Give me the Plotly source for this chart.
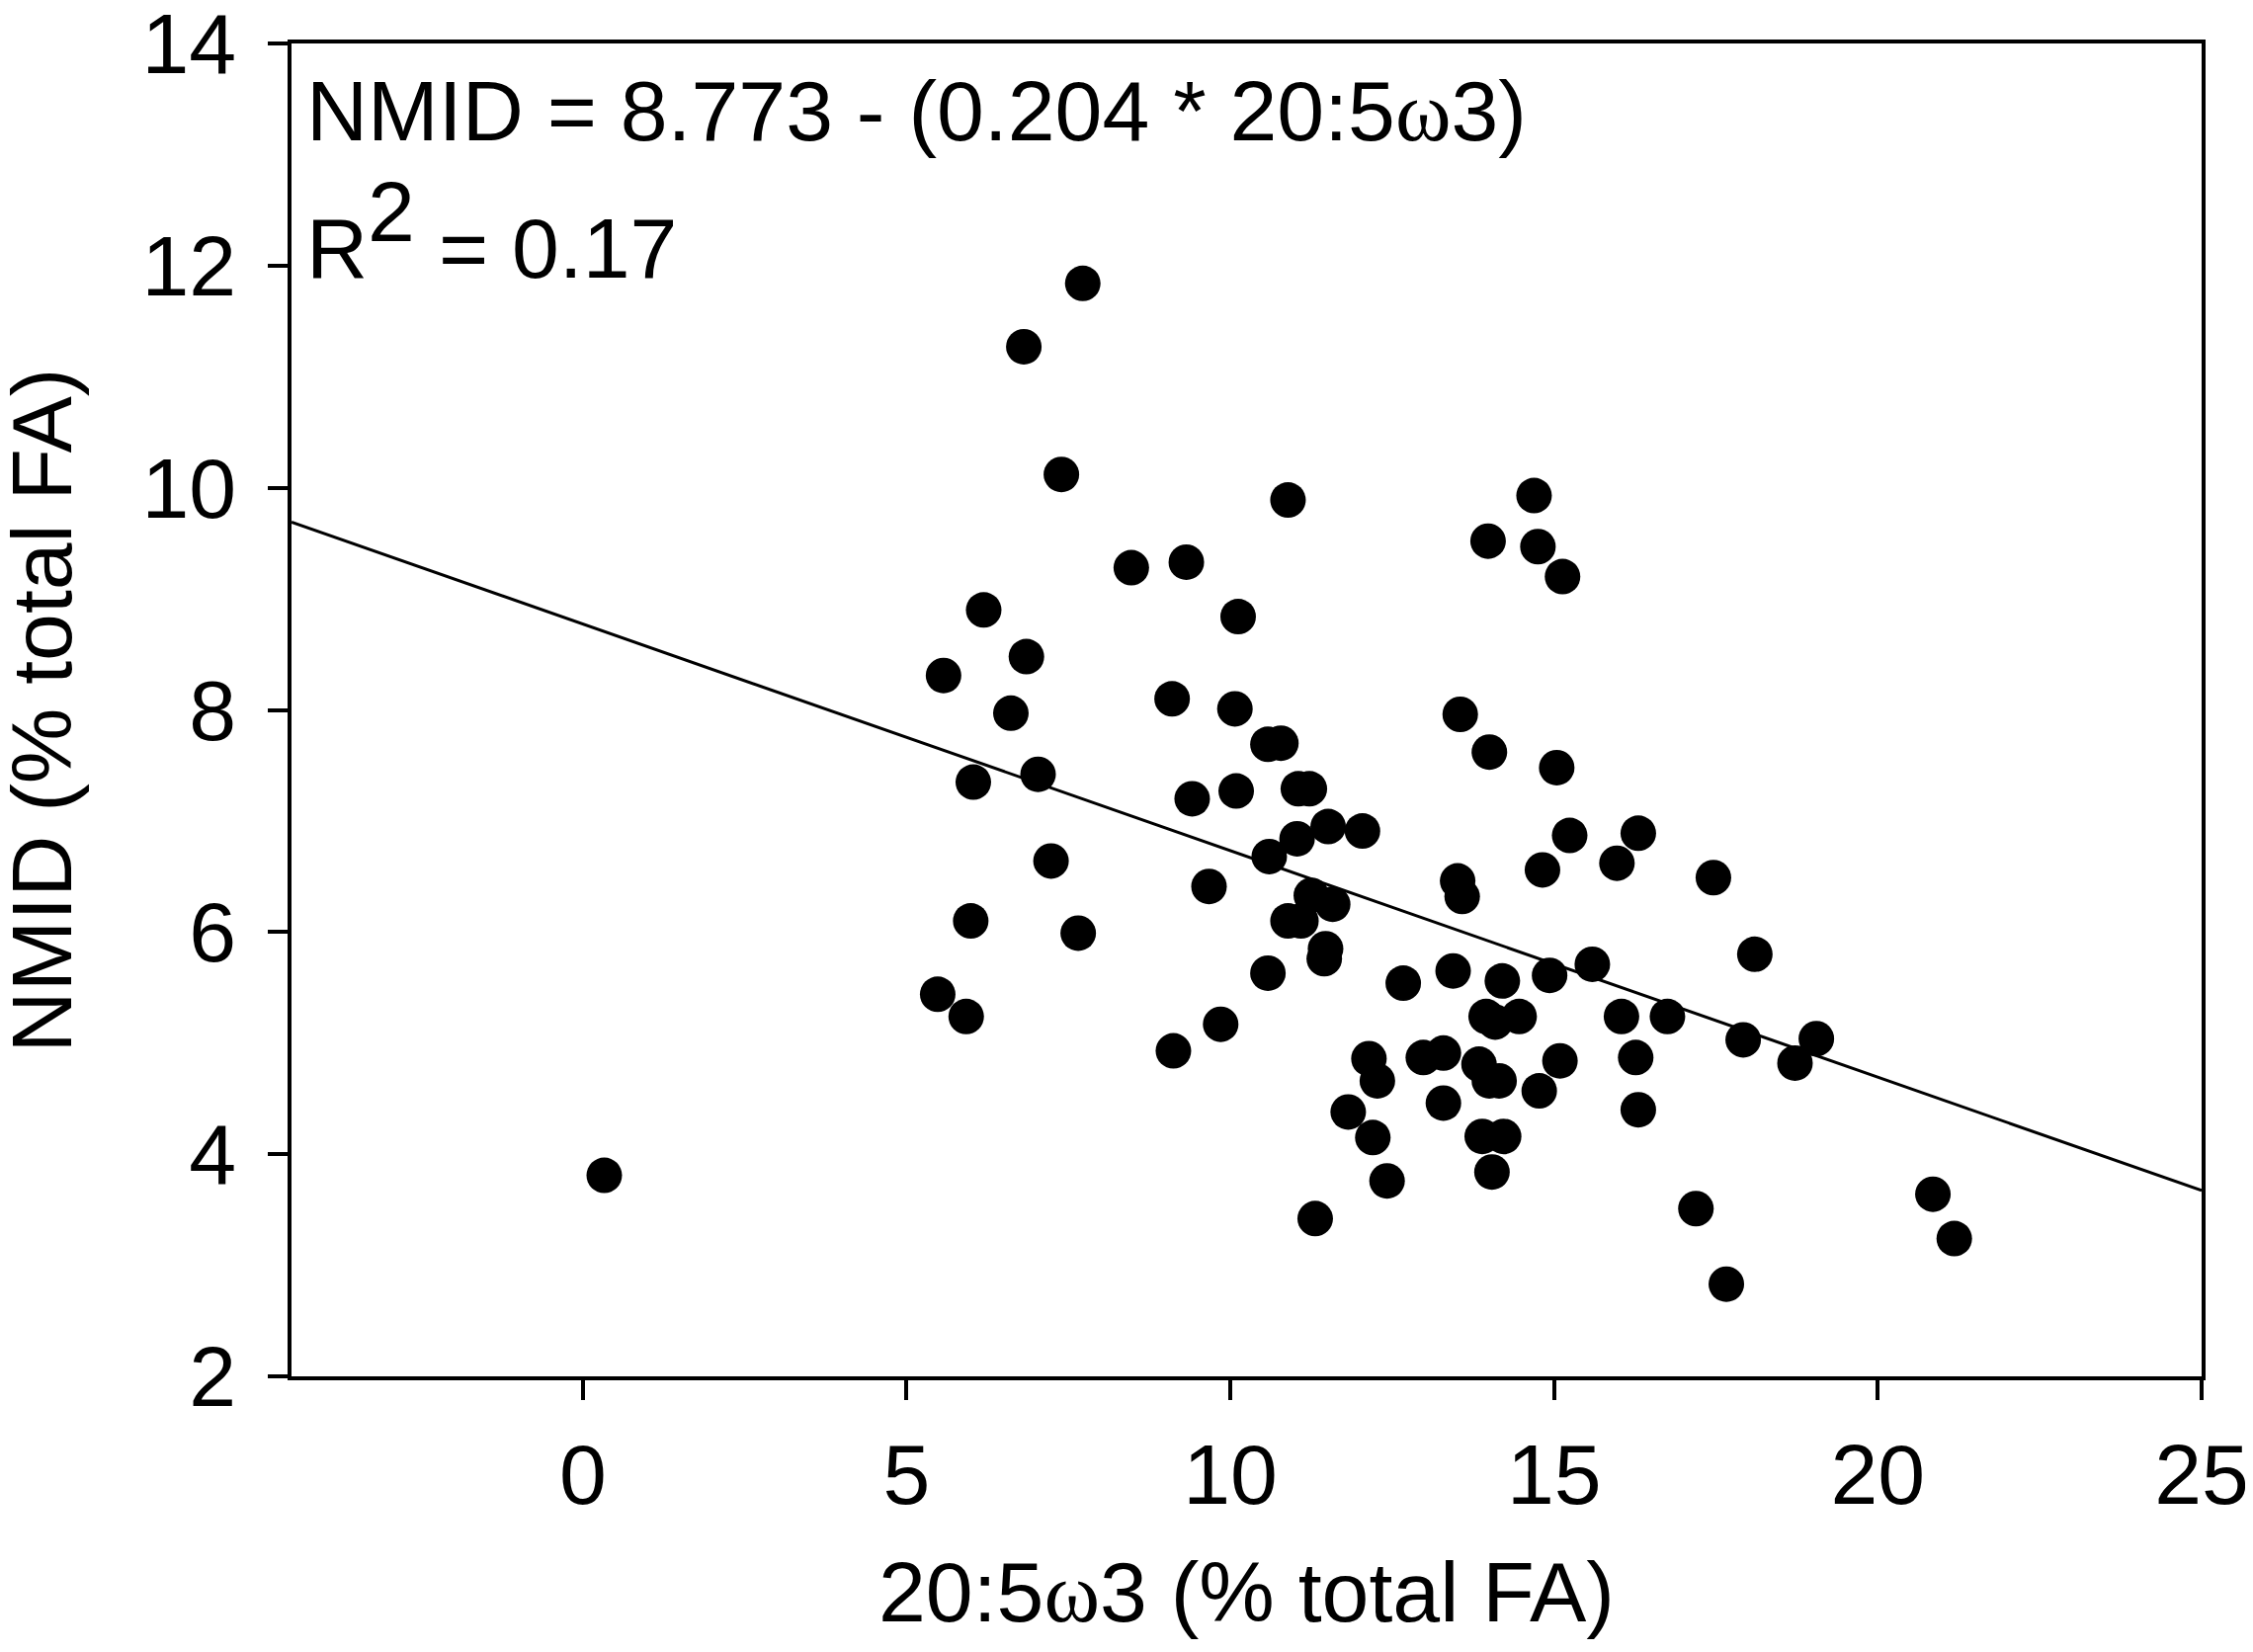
import plotly.graph_objects as go

# 20:5w3 and NMID, both % total FA
epa = [0.33, 7.72, 6.81, 7.39, 10.89, 14.69, 13.98, 14.75, 15.13, 8.47,
       9.32, 6.19, 10.12, 5.57, 6.85, 6.61, 9.10, 10.07, 13.55, 10.58,
       10.78, 14.00, 6.03, 7.03, 11.05, 11.22, 9.41, 10.09, 15.04, 11.51,
       12.04, 11.03, 15.24, 16.30, 10.60, 7.23, 14.82, 15.97, 17.46, 13.51,
       13.58, 9.67, 5.99, 11.25, 11.58, 10.89, 11.09, 7.65, 11.47, 11.45,
       5.48, 10.58, 12.67, 13.44, 14.20, 14.93, 15.59, 18.10, 5.92, 9.85,
       13.95, 14.09, 14.46, 16.04, 16.75, 17.92, 19.05, 9.12, 12.14, 12.98,
       13.29, 13.84, 15.09, 16.26, 18.72, 12.27, 14.00, 14.15, 14.77, 11.82,
       13.29, 16.30, 12.20, 13.89, 14.22, 12.42, 14.04, 11.31, 17.19, 20.85,
       21.18, 17.66]
nmid = [3.81, 11.84, 11.27, 10.12, 9.89, 9.93, 9.52, 9.47, 9.20, 9.28,
        9.33, 8.90, 8.84, 8.31, 8.48, 7.97, 8.10, 8.01, 7.96, 7.69,
        7.70, 7.62, 7.35, 7.42, 7.29, 7.29, 7.20, 7.27, 7.48, 6.95,
        6.91, 6.84, 6.87, 6.89, 6.68, 6.64, 6.56, 6.62, 6.49, 6.46,
        6.32, 6.41, 6.10, 6.33, 6.25, 6.10, 6.10, 5.99, 5.85, 5.76,
        5.44, 5.63, 5.54, 5.65, 5.56, 5.61, 5.71, 5.80, 5.24, 5.17,
        5.24, 5.19, 5.24, 5.24, 5.24, 5.03, 5.04, 4.93, 4.86, 4.87,
        4.91, 4.81, 4.84, 4.87, 4.82, 4.66, 4.66, 4.66, 4.57, 4.38,
        4.46, 4.40, 4.15, 4.16, 4.16, 3.76, 3.84, 3.42, 3.51, 3.64,
        3.24, 2.83]

# fitted line from the equation printed on the chart
intercept = 8.773
slope = -0.204
x_range = [-4.5, 25]
y_range = [2, 14]
x_ticks = [0, 5, 10, 15, 20, 25]
y_ticks = [2, 4, 6, 8, 10, 12, 14]

font = "Liberation Sans, Arial, sans-serif"
fsize = 86
omega = '<span style="font-family:Liberation Serif, serif">ω</span>'

fit_x = x_range
fit_y = [intercept + slope * v for v in fit_x]

fig = go.Figure()
fig.add_trace(go.Scatter(x=fit_x, y=fit_y, mode="lines",
                         line=dict(color="black", width=3),
                         hoverinfo="skip"))
fig.add_trace(go.Scatter(x=epa, y=nmid, mode="markers",
                         marker=dict(color="black", size=36, line=dict(width=0))))

axis = dict(showgrid=False, zeroline=False, showline=True, linecolor="black",
            linewidth=3.5, mirror=True, ticks="outside", ticklen=20, tickwidth=3.5,
            tickcolor="black", ticklabeloverflow="allow", automargin=False,
            tickfont=dict(family=font, size=fsize, color="black"))
fig.update_xaxes(range=x_range, tickvals=x_ticks, ticklabelstandoff=2, **axis)
fig.update_yaxes(range=y_range, tickvals=y_ticks, ticklabelstandoff=15, **axis)

ann = dict(xref="paper", yref="paper", showarrow=False,
           font=dict(family=font, size=fsize, color="black"))
fig.add_annotation(x=0, y=0.949, xanchor="left", yanchor="middle", xshift=13,
                   text="NMID = 8.773 - (0.204 * 20:5" + omega + "3)", **ann)
fig.add_annotation(x=0, y=0.8466, xanchor="left", yanchor="middle", xshift=13,
                   text="R", **ann)
fig.add_annotation(x=0, y=0.874, xanchor="left", yanchor="middle", xshift=75,
                   text="2", **ann)
fig.add_annotation(x=0, y=0.8466, xanchor="left", yanchor="middle", xshift=123,
                   text=" = 0.17", **ann)
fig.add_annotation(x=0.5, y=-0.162, xanchor="center", yanchor="middle",
                   text="20:5" + omega + "3 (% total FA)", **ann)
fig.add_annotation(x=-0.1309, y=0.5, xanchor="center", yanchor="middle",
                   textangle=-90, text="NMID (% total FA)", **ann)

# page body adds an 8px margin, so the figure is 16px smaller than the window
fig.update_layout(width=2264, height=1656, showlegend=False,
                  paper_bgcolor="white", plot_bgcolor="white",
                  margin=dict(l=287, r=44, t=36, b=271))

fig.write_html("out.html")
